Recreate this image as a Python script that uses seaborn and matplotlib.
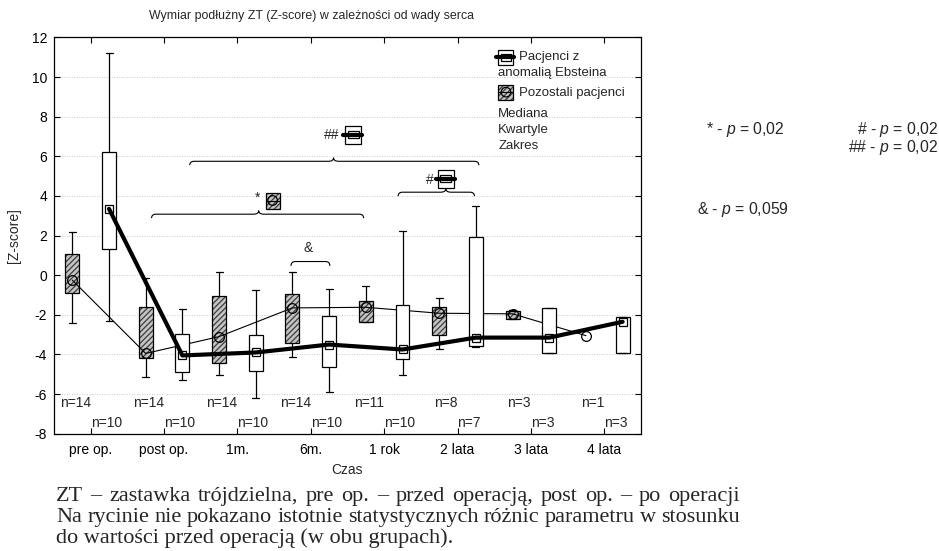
import numpy as np
import pandas as pd
import matplotlib
matplotlib.use("Agg")
import matplotlib.pyplot as plt
import matplotlib.transforms as mtransforms
from matplotlib.patches import PathPatch, Rectangle, Circle
from matplotlib.lines import Line2D
from matplotlib.path import Path
import seaborn as sns

# ---------------------------------------------------------------- data
categories = ["pre op.", "post op.", "1m.", "6m.", "1 rok", "2 lata", "3 lata", "4 lata"]
groups = ["Pozostali pacjenci", "Pacjenci z anomalią Ebsteina"]

# Pozostali pacjenci: min, Q1, median, Q3, max (4 lata: one patient, median only)
poz_min = [-2.4, -5.15, -5.05, -4.15, -2.35, -3.7, -2.2, np.nan]
poz_q1 = [-0.9, -4.2, -4.45, -3.4, -2.35, -3.0, -2.2, np.nan]
poz_med = [-0.25, -3.95, -3.1, -1.65, -1.62, -1.92, -1.95, -3.05]
poz_q3 = [1.05, -1.6, -1.05, -0.95, -1.28, -1.58, -1.8, np.nan]
poz_max = [2.2, -0.15, 0.15, 0.15, -0.57, -1.15, -1.75, np.nan]
poz_n = [14, 14, 14, 14, 11, 8, 3, 1]

# Pacjenci z anomalią Ebsteina: min, Q1, median, Q3, max
ebs_min = [-2.3, -5.3, -6.2, -5.9, -5.05, -3.6, -3.95, -3.95]
ebs_q1 = [1.3, -4.9, -4.85, -4.65, -4.25, -3.55, -3.95, -3.95]
ebs_med = [3.35, -4.05, -3.9, -3.5, -3.75, -3.15, -3.15, -2.35]
ebs_q3 = [6.2, -2.95, -3.0, -2.05, -1.5, 1.95, -1.67, -2.1]
ebs_max = [11.2, -1.7, -0.75, -0.7, 2.25, 3.5, -1.67, -2.1]
ebs_n = [10, 10, 10, 10, 10, 7, 3, 3]

y_ticks = list(range(-8, 13, 2))


def five_number_frame(group, mins, q1s, meds, q3s, maxs):
    rows = []
    for cat, stats in zip(categories, zip(mins, q1s, meds, q3s, maxs)):
        if np.isnan(stats[0]):
            continue
        for v in stats:
            rows.append({"czas": cat, "grupa": group, "z": v})
    return pd.DataFrame(rows)


df_poz = five_number_frame(groups[0], poz_min, poz_q1, poz_med, poz_q3, poz_max)
df_ebs = five_number_frame(groups[1], ebs_min, ebs_q1, ebs_med, ebs_q3, ebs_max)

# ---------------------------------------------------------------- style
sns.set_theme(style="ticks")
plt.rcParams["font.family"] = ["Liberation Sans", "DejaVu Sans"]
plt.rcParams["mathtext.fontset"] = "custom"
plt.rcParams["mathtext.rm"] = "Liberation Sans"
plt.rcParams["mathtext.it"] = "Liberation Sans:italic"
plt.rcParams["hatch.linewidth"] = 0.9

HATCH_FACE = "#c4c4c4"
HATCH_EDGE = "#3c3c3c"
palette = {groups[0]: HATCH_FACE, groups[1]: "white"}

fig = plt.figure(figsize=(9.39, 5.51), dpi=100)
ax = fig.add_axes([0.0575, 0.2129, 0.6251, 0.7191])

width, gap = 1.0, 0.62
offset = width / 4


def draw_boxes(frame, zorder):
    n_p, n_l = len(ax.patches), len(ax.lines)
    sns.boxplot(data=frame, x="czas", y="z", hue="grupa", order=categories,
                hue_order=groups, dodge=True, width=width, gap=gap,
                whis=np.inf, palette=palette, saturation=1, linecolor="black",
                linewidth=0.9, showfliers=False, legend=False, ax=ax,
                medianprops={"visible": False})
    new_patches = list(ax.patches)[n_p:]
    for art in new_patches + list(ax.lines)[n_l:]:
        art.set_zorder(zorder)
    return new_patches


# hatched boxes of the remaining patients
for p in draw_boxes(df_poz, 2):
    p.set_hatch("//////")
    p.set_edgecolor(HATCH_EDGE)
    p.set_linewidth(0)
    ax.add_patch(PathPatch(p.get_path(), transform=p.get_transform(),
                           fill=False, edgecolor="black", linewidth=0.9,
                           zorder=2.1))

x_idx = np.arange(len(categories))
sns.lineplot(x=x_idx - offset, y=poz_med, ax=ax, color="black", linewidth=0.8,
             marker="o", markersize=7, markerfacecolor="none",
             markeredgecolor="black", markeredgewidth=0.9, estimator=None,
             sort=False, zorder=2.5)

# open boxes of the Ebstein group
draw_boxes(df_ebs, 3)
sns.lineplot(x=x_idx + offset, y=ebs_med, ax=ax, color="black", linewidth=3.0,
             marker="s", markersize=6, markerfacecolor="none",
             markeredgecolor="black", markeredgewidth=0.9, estimator=None,
             sort=False, zorder=4)

# ---------------------------------------------------------------- axes
ax.set_xlim(-0.5, len(categories) - 0.5)
ax.set_ylim(-8, 12)
ax.set_xticks(x_idx)
ax.set_xticklabels(categories)
ax.set_yticks(y_ticks)
ax.set_yticklabels([str(t) for t in y_ticks])
ax.tick_params(direction="in", top=True, right=True, length=4, width=0.8,
               labelsize=10, colors="black")
ax.tick_params(axis="x", pad=7)
ax.tick_params(axis="y", pad=5)
for s in ax.spines.values():
    s.set_visible(True)
    s.set_color("black")
    s.set_linewidth(0.9)
ax.yaxis.grid(True, linestyle=(0, (1, 2)), color="#b8b8b8", linewidth=0.6)
ax.xaxis.grid(False)
ax.set_axisbelow(True)

ax.set_xlabel("Czas", fontsize=10)
ax.xaxis.label.set_va("center")
ax.xaxis.set_label_coords(0.5, -0.092)
ax.set_ylabel("[Z-score]", fontsize=10)
ax.yaxis.set_label_coords(-0.056, 0.5)

# sample sizes
for i in x_idx:
    ax.text(i, -6.45, f"n={poz_n[i]}", ha="right", va="center", fontsize=10)
    ax.text(i, -7.46, f"n={ebs_n[i]}", ha="left", va="center", fontsize=10)


# ---------------------------------------------------------------- symbols
def at(x, y, base):
    return mtransforms.Affine2D() + mtransforms.ScaledTranslation(x, y, base)


def ebstein_icon(x, y, base, w=16, h=18):
    t = at(x, y, base)
    ax.add_patch(Rectangle((-w / 2, -h / 2), w, h, transform=t,
                           facecolor="white", edgecolor="black",
                           linewidth=0.9, zorder=5, clip_on=False))
    ax.add_patch(Rectangle((-w / 2 + 2.5, -3.5), w - 5, 7, transform=t,
                           fill=False, edgecolor="black", linewidth=0.9,
                           zorder=5, clip_on=False))
    ax.add_line(Line2D([-w / 2 - 2, w / 2 + 1], [0, 0], transform=t,
                       color="black", linewidth=3, zorder=6, clip_on=False))


def others_icon(x, y, base, w=14, h=16):
    t = at(x, y, base)
    ax.add_patch(Rectangle((-w / 2, -h / 2), w, h, transform=t,
                           facecolor=HATCH_FACE, edgecolor=HATCH_EDGE,
                           linewidth=0, hatch="//////", zorder=5,
                           clip_on=False))
    ax.add_patch(Rectangle((-w / 2, -h / 2), w, h, transform=t, fill=False,
                           edgecolor="black", linewidth=0.9, zorder=5,
                           clip_on=False))
    ax.add_patch(Circle((0, 0), 4.8, transform=t, fill=False,
                        edgecolor="black", linewidth=0.9, zorder=6,
                        clip_on=False))
    ax.add_line(Line2D([-w / 2, w / 2], [0, 0], transform=t, color="black",
                       linewidth=0.8, zorder=6, clip_on=False))


def brace(x0, x1, y, tip=None, drop=0.2, rx=0.06, tip_h=0.18, tip_w=0.07):
    verts = [(x0, y - drop), (x0, y), (x0 + rx, y)]
    codes = [Path.MOVETO, Path.CURVE3, Path.CURVE3]
    if tip is not None:
        verts += [(tip - tip_w, y), (tip, y), (tip, y + tip_h),
                  (tip, y), (tip + tip_w, y)]
        codes += [Path.LINETO, Path.CURVE3, Path.CURVE3,
                  Path.CURVE3, Path.CURVE3]
    verts += [(x1 - rx, y), (x1, y), (x1, y - drop)]
    codes += [Path.LINETO, Path.CURVE3, Path.CURVE3]
    ax.add_patch(PathPatch(Path(verts, codes), fill=False, edgecolor="black",
                           linewidth=0.8, zorder=5))


# significance brackets
brace(1.35, 5.29, 5.75, tip=3.31)
ax.text(3.28, 7.09, "##", ha="center", va="center", fontsize=10)
ebstein_icon(3.58, 7.09, ax.transData)

brace(0.83, 3.72, 3.08, tip=2.29)
ax.text(2.27, 3.89, "*", ha="center", va="center", fontsize=10)
others_icon(2.48, 3.77, ax.transData)

brace(4.19, 5.23, 4.19, tip=4.84)
ax.text(4.62, 4.81, "#", ha="center", va="center", fontsize=10)
ebstein_icon(4.84, 4.86, ax.transData)

brace(2.73, 3.26, 0.69, drop=0.22)
ax.text(2.97, 1.39, "&", ha="center", va="center", fontsize=10)

# legend
ebstein_icon(0.770, 0.950, ax.transAxes, w=15, h=15)
others_icon(0.770, 0.862, ax.transAxes, w=15, h=15)
leg_kw = dict(transform=ax.transAxes, va="center", ha="left", fontsize=9.5)
ax.text(0.792, 0.951, "Pacjenci z", **leg_kw)
ax.text(0.757, 0.910, "anomalią Ebsteina", **leg_kw)
ax.text(0.792, 0.860, "Pozostali pacjenci", **leg_kw)
ax.text(0.757, 0.807, "Mediana", **leg_kw)
ax.text(0.757, 0.766, "Kwartyle", **leg_kw)
ax.text(0.757, 0.726, "Zakres", **leg_kw)

# ---------------------------------------------------------------- figure text
fig.text(0.3317, 0.971, "Wymiar podłużny ZT (Z-score) w zależności od wady serca",
         ha="center", va="center", fontsize=8.9)

p_kw = dict(va="center", fontsize=11.3)
fig.text(0.7519, 0.7641, "* - $p$ = 0,02", ha="left", **p_kw)
fig.text(0.999, 0.7641, "# - $p$ = 0,02", ha="right", **p_kw)
fig.text(0.999, 0.7323, "## - $p$ = 0,02", ha="right", **p_kw)
fig.text(0.7423, 0.6189, "& - $p$ = 0,059", ha="left", **p_kw)

# justified caption paragraph (last line left-aligned)
caption = [
    "ZT – zastawka trójdzielna, pre op. – przed operacją,  post op. – po operacji",
    "Na rycinie nie pokazano istotnie statystycznych różnic parametru w stosunku",
    "do wartości przed operacją (w obu grupach).",
]
cap_left, cap_right = 56, 740          # paragraph edges in pixels
cap_kw = dict(ha="left", va="center", fontsize=16.0, family="Liberation Serif")
renderer = fig.canvas.get_renderer()
for k, line in enumerate(caption):
    y = 0.0998 - k * 0.0381
    if k == len(caption) - 1:
        fig.text(cap_left / 939, y, line, **cap_kw)
        continue
    words = line.split()
    texts = [fig.text(0, y, w_, **cap_kw) for w_ in words]
    widths = [t.get_window_extent(renderer).width for t in texts]
    space = (cap_right - cap_left - sum(widths)) / (len(words) - 1)
    x = cap_left
    for t, wd in zip(texts, widths):
        t.set_x(x / 939)
        x += wd + space

fig.savefig("out.png", dpi=100)
